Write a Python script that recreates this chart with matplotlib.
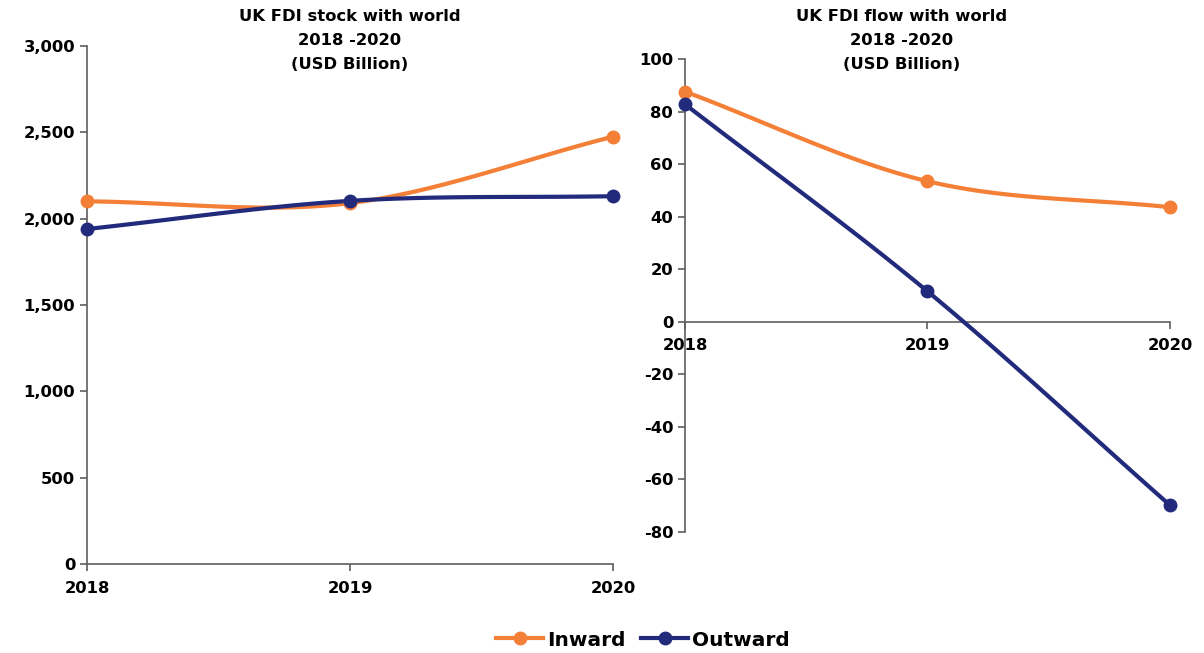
import numpy as np
import matplotlib.pyplot as plt
from matplotlib.lines import Line2D

plt.rcParams['font.family'] = ['DejaVu Sans']
plt.rcParams['font.weight'] = 'bold'
plt.rcParams['axes.unicode_minus'] = False

years = ['2018', '2019', '2020']

# FDI stock (USD bn)
stock_inward = [2100, 2090, 2475]
stock_outward = [1940, 2103, 2130]

# FDI flow (USD bn)
flow_inward = [87.6, 53.5, 43.6]
flow_outward = [82.8, 11.6, -69.8]

ORANGE = '#F47F36'
NAVY = '#222A7C'
SPINE = '#5e5e5e'
FS = 11.8


def smooth(y, n=60):
    # Catmull-Rom curve through the points, like a spreadsheet "smoothed line"
    y = np.asarray(y, dtype=float)
    x = np.arange(len(y), dtype=float)
    px = np.concatenate([[2 * x[0] - x[1]], x, [2 * x[-1] - x[-2]]])
    py = np.concatenate([[2 * y[0] - y[1]], y, [2 * y[-1] - y[-2]]])
    xs, ys = [], []
    for i in range(1, len(px) - 2):
        t = np.linspace(0, 1, n)
        for arr, out in ((px, xs), (py, ys)):
            p0, p1, p2, p3 = arr[i - 1:i + 3]
            out.append(0.5 * (2 * p1 + (-p0 + p2) * t
                              + (2 * p0 - 5 * p1 + 4 * p2 - p3) * t ** 2
                              + (-p0 + 3 * p1 - 3 * p2 + p3) * t ** 3))
    return np.concatenate(xs), np.concatenate(ys)


def draw(ax, vals, color):
    sx, sy = smooth(vals)
    ax.plot(sx, sy, color=color, lw=3, solid_capstyle='round', clip_on=False, zorder=3)
    ax.plot(range(len(vals)), vals, 'o', color=color, ms=9, clip_on=False, zorder=4)


def style(ax):
    for s in ('top', 'right'):
        ax.spines[s].set_visible(False)
    for s in ('left', 'bottom'):
        ax.spines[s].set_color(SPINE)
        ax.spines[s].set_linewidth(1.2)
    ax.tick_params(axis='both', direction='out', length=5, width=1.2, color=SPINE,
                   labelsize=FS)
    ax.set_xlim(0, 2)
    ax.set_xticks(range(len(years)))
    ax.set_xticklabels(years, fontweight='bold')
    for lab in ax.get_yticklabels():
        lab.set_fontweight('bold')


fig = plt.figure(figsize=(12.04, 6.53), dpi=100)

# left panel: stock
ax1 = fig.add_axes([0.0723, 0.1363, 0.4369, 0.7933])
draw(ax1, stock_inward, ORANGE)
draw(ax1, stock_outward, NAVY)
ax1.set_ylim(0, 3000)
ax1.set_yticks(np.arange(0, 3001, 500))
ax1.yaxis.set_major_formatter(plt.FuncFormatter(lambda v, p: f'{int(v):,}'))
style(ax1)
ax1.tick_params(axis='x', pad=7)

# right panel: flow
ax2 = fig.add_axes([0.5689, 0.1853, 0.4028, 0.7243])
draw(ax2, flow_inward, ORANGE)
draw(ax2, flow_outward, NAVY)
ax2.set_ylim(-80, 100)
ax2.set_yticks(np.arange(-80, 101, 20))
ax2.spines['bottom'].set_position(('data', 0))
style(ax2)
ax2.tick_params(axis='x', pad=7)

TS = 11.8
fig.text(350 / 1204, 1 - 9 / 653, 'UK FDI stock with world\n2018 -2020\n(USD Billion)',
         ha='center', va='top', fontsize=TS, fontweight='bold', linespacing=1.75)
fig.text(902 / 1204, 1 - 9 / 653, 'UK FDI flow with world\n2018 -2020\n(USD Billion)',
         ha='center', va='top', fontsize=TS, fontweight='bold', linespacing=1.75)

handles = [Line2D([], [], color=ORANGE, lw=3, marker='o', ms=9),
           Line2D([], [], color=NAVY, lw=3, marker='o', ms=9)]
fig.legend(handles, ['Inward', 'Outward'], loc='center', ncol=2,
           bbox_to_anchor=(643 / 1204, 1 - 640 / 653), frameon=False,
           prop={'size': 14.5, 'weight': 'bold'}, handlelength=2.3,
           handletextpad=0.2, columnspacing=0.8)

fig.savefig('out.png', dpi=100)
